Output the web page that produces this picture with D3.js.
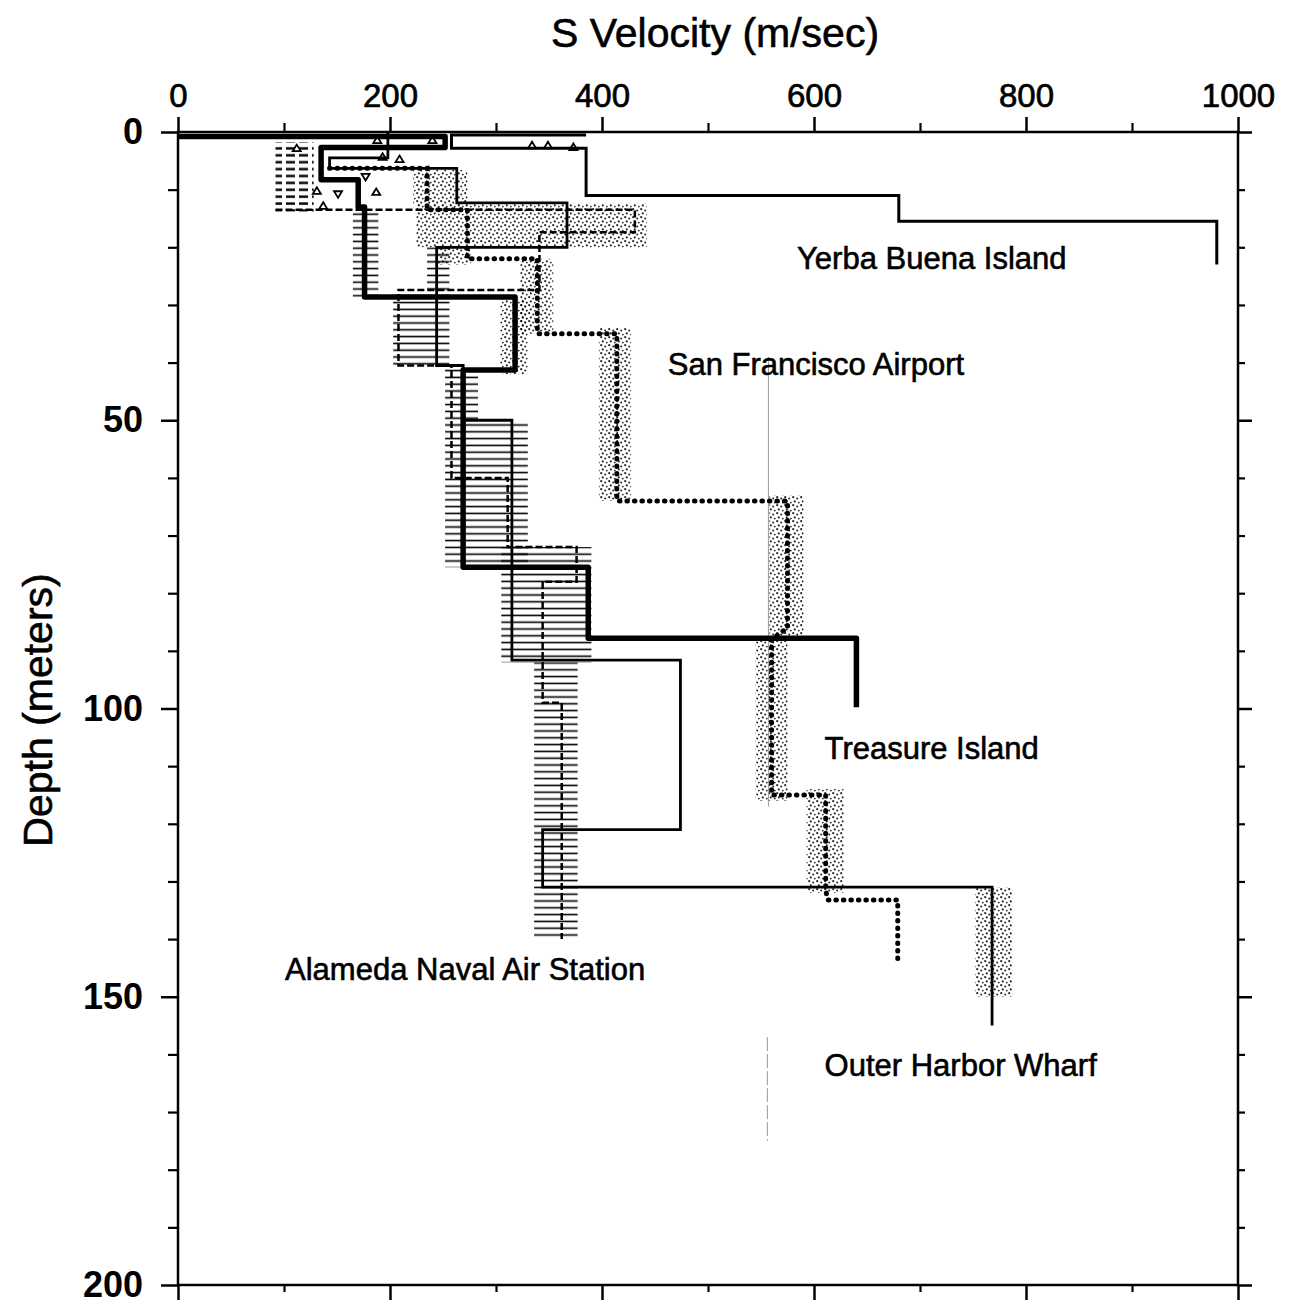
<!DOCTYPE html>
<html><head><meta charset="utf-8">
<script src="https://cdn.jsdelivr.net/npm/d3@7"></script>
<style>
body{margin:0;background:#fff}
svg{display:block}
text{font-family:"Liberation Sans",Arial,Helvetica,sans-serif;fill:#000}
</style>
</head><body>
<svg id="c" width="1292" height="1313"></svg>
<script>
// ---------- data (velocity m/s, depth m) ----------
const xMajorTicks = [0, 200, 400, 600, 800, 1000];
const xMinorTicks = [100, 300, 500, 700, 900];
const yMajorTicks = [0, 50, 100, 150, 200];
const yMinorTicks = [10,20,30,40,60,70,80,90,110,120,130,140,160,170,180,190];

const yerbaBuena = [[385,0.5],[258,0.5],[258,2.8],[385,2.8],[385,11],[680,11],[680,15.5],[980,15.5],[980,23]];
const treasureIsland = [[0,0.8],[252,0.8],[252,2.7],[135,2.7],[135,8.3],[170,8.3],[170,13],[176,13],[176,28.6],[318,28.6],[318,41.3],[269,41.3],[269,75.5],[387,75.5],[387,87.8],[640,87.8],[640,99.8]];
const sfAirport = [[143,6.3],[235,6.3],[235,13.5],[273,13.5],[273,22],[339,22],[339,35],[414,35],[414,64],[575,64],[575,86],[560,88],[560,115],[611,115],[611,131.5],[613,133.2],[679,133.2],[679,144.5]];
const alameda = [[92,13.5],[431,13.5],[431,17.4],[341,17.4],[341,27.4],[208,27.4],[208,40.5],[258,40.5],[258,60],[311,60],[311,72],[376,72],[376,78],[344,78],[344,99],[362,99],[362,140]];
const outerHarbor = [[198,0],[198,4.5],[143,4.5],[143,6.3],[263,6.3],[263,12.3],[367,12.3],[367,20],[244,20],[244,40.5],[269,40.5],[269,50],[315,50],[315,91.6],[474,91.6],[474,121],[344,121],[344,131],[768,131],[768,155]];

// uncertainty bands [vMin, vMax, depthTop, depthBottom]
const stippleBands = [[222,273,6.6,12.7],[225,442,12.4,20],[245,276,20,23],[323,354,22,35],[304,330,29,42],[397,427,34,64],[558,590,63,88],[545,575,88,116],[593,628,114,132],[752,787,131,150]];
const hatchBands = [[165,189,13.5,28.6],[235,256,20,28],[203,256,28,40.5],[252,283,40.5,50],[252,330,50,75.5],[305,390,72,92],[336,377,92,140]];
const fillBlock = [92,128,1.8,13.8];

// triangle symbols [velocity, depth, 1 = up / -1 = down]
const triangles = [[112,2.8,1],[188,1.4,1],[240,1.4,1],[193,4.3,1],[209,4.7,1],[177,7.8,-1],[131,10.2,1],[151,10.8,-1],[187,10.4,1],[137,12.8,1],[334,2.3,1],[349,2.3,1],[373,2.6,1]];

// faint vertical reference line [velocity, depthTop, depthBottom]
const grayLines = [[557,39,117],[556,157,175]];

const labelNames = ["Yerba Buena Island","San Francisco Airport","Treasure Island","Alameda Naval Air Station","Outer Harbor Wharf"];
const labelV = [584, 462, 610, 101, 610];
const labelD = [23.8, 42.2, 108.8, 147.1, 163.7];

// ---------- chart ----------
const svg = d3.select("#c");
const x = d3.scaleLinear().domain([0,1000]).range([178,1238]);
const y = d3.scaleLinear().domain([0,200]).range([132,1285]);

const defs = svg.append("defs");
const st = defs.append("pattern").attr("id","stip").attr("patternUnits","userSpaceOnUse").attr("width",8).attr("height",8);
[[1.2,1.2,1.1],[5.2,2.6,1.0],[2.8,5.4,1.05],[6.8,6.6,0.9]].forEach(p=>st.append("circle").attr("cx",p[0]).attr("cy",p[1]).attr("r",p[2]).attr("fill","#000"));
const ht = defs.append("pattern").attr("id","hatch").attr("patternUnits","userSpaceOnUse").attr("width",10).attr("height",6.8);
ht.append("rect").attr("x",0).attr("y",2.6).attr("width",10).attr("height",1.6).attr("fill","#000");
const dp = defs.append("pattern").attr("id","dashes").attr("patternUnits","userSpaceOnUse").attr("width",13).attr("height",6.9);
dp.append("rect").attr("x",0).attr("y",2.3).attr("width",9).attr("height",2.4).attr("fill","#000");

const bandRect = (sel, data, fill, op) => sel.selectAll(null).data(data).enter().append("rect")
  .attr("x",d=>x(d[0])).attr("y",d=>y(d[2]))
  .attr("width",d=>x(d[1])-x(d[0])).attr("height",d=>y(d[3])-y(d[2]))
  .attr("fill",fill).attr("opacity",op);

bandRect(svg.append("g"), stippleBands, "url(#stip)", 0.85);
bandRect(svg.append("g"), hatchBands, "url(#hatch)", 1);
bandRect(svg.append("g"), [fillBlock], "url(#dashes)", 1);

svg.append("g").selectAll("line").data(grayLines).enter().append("line")
  .attr("x1",d=>x(d[0])).attr("x2",d=>x(d[0])).attr("y1",d=>y(d[1])).attr("y2",d=>y(d[2]))
  .attr("stroke","#999").attr("stroke-width",1).attr("stroke-dasharray",(d,i)=>i? "14,3":null);

const line = d3.line().x(d=>x(d[0])).y(d=>y(d[1]));
const prof = svg.append("g").attr("fill","none").attr("stroke","#000");
prof.append("path").attr("d",line(alameda)).attr("stroke-width",2.5).attr("stroke-dasharray","7,3");
prof.append("path").attr("d",line(outerHarbor)).attr("stroke-width",2.8);
prof.append("path").attr("d",line(yerbaBuena)).attr("stroke-width",3);
prof.append("path").attr("d",line(sfAirport)).attr("stroke-width",5).attr("stroke-dasharray","0.5,7").attr("stroke-linecap","round");
prof.append("path").attr("d",line(treasureIsland)).attr("stroke-width",5.5).attr("stroke-linejoin","round");

svg.append("g").selectAll("path").data(triangles).enter().append("path")
  .attr("transform",d=>`translate(${x(d[0])},${y(d[1])})`)
  .attr("d",d=> d[2]>0 ? "M0,-3.5L4,3L-4,3Z" : "M0,3.5L4,-3L-4,-3Z")
  .attr("fill","none").attr("stroke","#000").attr("stroke-width",1.8);

// frame
svg.append("rect").attr("x",x(0)).attr("y",y(0)).attr("width",x(1000)-x(0)).attr("height",y(200)-y(0))
  .attr("fill","none").attr("stroke","#000").attr("stroke-width",2.5);

const tick = (g) => g.selectAll(".domain").remove();
// top axis
const gt = svg.append("g").attr("transform",`translate(0,${y(0)})`)
  .call(d3.axisTop(x).tickValues(xMajorTicks).tickSize(15).tickPadding(10).tickFormat(d3.format("d"))).call(tick);
gt.selectAll("line").attr("stroke-width",2.5);
gt.selectAll("text").attr("font-size",33).attr("font-family","Liberation Sans, Arial, sans-serif").attr("stroke","#000").attr("stroke-width",0.7);
svg.append("g").attr("transform",`translate(0,${y(0)})`)
  .call(d3.axisTop(x).tickValues(xMinorTicks).tickSize(9).tickFormat("")).call(tick).selectAll("line").attr("stroke-width",2.2);
// bottom axis
svg.append("g").attr("transform",`translate(0,${y(200)})`)
  .call(d3.axisBottom(x).tickValues(xMajorTicks).tickSize(15).tickFormat("")).call(tick).selectAll("line").attr("stroke-width",2.5);
svg.append("g").attr("transform",`translate(0,${y(200)})`)
  .call(d3.axisBottom(x).tickValues(xMinorTicks).tickSize(7).tickFormat("")).call(tick).selectAll("line").attr("stroke-width",2.2);
// left axis
const gl = svg.append("g").attr("transform",`translate(${x(0)},0)`)
  .call(d3.axisLeft(y).tickValues(yMajorTicks).tickSize(17).tickPadding(18).tickFormat(d3.format("d"))).call(tick);
gl.selectAll("line").attr("stroke-width",2.5);
gl.selectAll("text").attr("font-size",36).attr("font-weight","bold").attr("font-family","Liberation Sans, Arial, sans-serif");
svg.append("g").attr("transform",`translate(${x(0)},0)`)
  .call(d3.axisLeft(y).tickValues(yMinorTicks).tickSize(10).tickFormat("")).call(tick).selectAll("line").attr("stroke-width",2.2);
// right axis
svg.append("g").attr("transform",`translate(${x(1000)},0)`)
  .call(d3.axisRight(y).tickValues(yMajorTicks).tickSize(14).tickFormat("")).call(tick).selectAll("line").attr("stroke-width",2.5);
svg.append("g").attr("transform",`translate(${x(1000)},0)`)
  .call(d3.axisRight(y).tickValues(yMinorTicks).tickSize(7).tickFormat("")).call(tick).selectAll("line").attr("stroke-width",2.2);

// titles
svg.append("text").attr("x",715).attr("y",47).attr("text-anchor","middle").attr("font-size",41).attr("stroke","#000").attr("stroke-width",0.6).text("S Velocity (m/sec)");
svg.append("text").attr("transform","translate(52,710) rotate(-90)").attr("text-anchor","middle").attr("font-size",41).attr("stroke","#000").attr("stroke-width",0.6).text("Depth (meters)");

// site labels
svg.append("g").selectAll("text").data(labelNames).enter().append("text")
  .attr("x",(d,i)=>x(labelV[i])).attr("y",(d,i)=>y(labelD[i])).attr("font-size",31)
  .attr("stroke","#000").attr("stroke-width",0.6).text(d=>d);
</script>
</body></html>
